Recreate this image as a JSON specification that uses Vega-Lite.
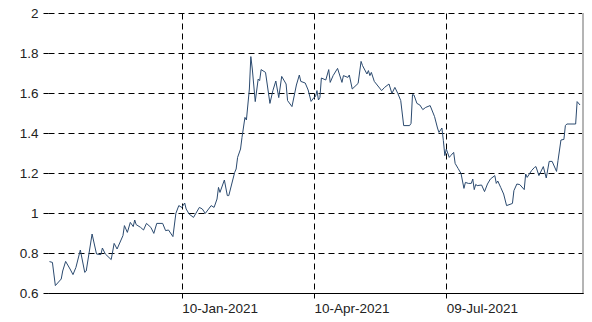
{
  "$schema": "https://vega.github.io/schema/vega-lite/v6.json",
  "width": 535,
  "height": 280,
  "autosize": {"type": "none"},
  "padding": {"left": 48, "top": 13, "right": 9, "bottom": 29},
  "background": "white",
  "config": {"view": {"stroke": null}, "font": "Liberation Sans"},
  "data": {"values": [
    {"date": "2020-10-12", "v": 0.757},
    {"date": "2020-10-14", "v": 0.753},
    {"date": "2020-10-16", "v": 0.637},
    {"date": "2020-10-20", "v": 0.67},
    {"date": "2020-10-21", "v": 0.71},
    {"date": "2020-10-23", "v": 0.758},
    {"date": "2020-10-26", "v": 0.72},
    {"date": "2020-10-28", "v": 0.692},
    {"date": "2020-10-30", "v": 0.728},
    {"date": "2020-11-02", "v": 0.815},
    {"date": "2020-11-05", "v": 0.703},
    {"date": "2020-11-06", "v": 0.71},
    {"date": "2020-11-10", "v": 0.895},
    {"date": "2020-11-13", "v": 0.795},
    {"date": "2020-11-16", "v": 0.792},
    {"date": "2020-11-17", "v": 0.825},
    {"date": "2020-11-19", "v": 0.795},
    {"date": "2020-11-23", "v": 0.767},
    {"date": "2020-11-25", "v": 0.848},
    {"date": "2020-11-27", "v": 0.82},
    {"date": "2020-12-01", "v": 0.887},
    {"date": "2020-12-02", "v": 0.937},
    {"date": "2020-12-04", "v": 0.903},
    {"date": "2020-12-06", "v": 0.953},
    {"date": "2020-12-08", "v": 0.932},
    {"date": "2020-12-09", "v": 0.965},
    {"date": "2020-12-10", "v": 0.942},
    {"date": "2020-12-13", "v": 0.928},
    {"date": "2020-12-15", "v": 0.915},
    {"date": "2020-12-17", "v": 0.948},
    {"date": "2020-12-20", "v": 0.928},
    {"date": "2020-12-22", "v": 0.898},
    {"date": "2020-12-24", "v": 0.948},
    {"date": "2020-12-28", "v": 0.948},
    {"date": "2020-12-30", "v": 0.912},
    {"date": "2021-01-01", "v": 0.915},
    {"date": "2021-01-04", "v": 0.882},
    {"date": "2021-01-06", "v": 0.998},
    {"date": "2021-01-08", "v": 1.037},
    {"date": "2021-01-10", "v": 1.028},
    {"date": "2021-01-12", "v": 1.05},
    {"date": "2021-01-13", "v": 1.02},
    {"date": "2021-01-15", "v": 0.995},
    {"date": "2021-01-18", "v": 0.978},
    {"date": "2021-01-22", "v": 1.028},
    {"date": "2021-01-24", "v": 1.02},
    {"date": "2021-01-26", "v": 0.998},
    {"date": "2021-01-30", "v": 1.037},
    {"date": "2021-02-01", "v": 1.028},
    {"date": "2021-02-03", "v": 1.07},
    {"date": "2021-02-04", "v": 1.128},
    {"date": "2021-02-05", "v": 1.103},
    {"date": "2021-02-08", "v": 1.165},
    {"date": "2021-02-10", "v": 1.087},
    {"date": "2021-02-11", "v": 1.087},
    {"date": "2021-02-15", "v": 1.203},
    {"date": "2021-02-16", "v": 1.22},
    {"date": "2021-02-17", "v": 1.278},
    {"date": "2021-02-19", "v": 1.32},
    {"date": "2021-02-20", "v": 1.378},
    {"date": "2021-02-22", "v": 1.478},
    {"date": "2021-02-23", "v": 1.465},
    {"date": "2021-02-25", "v": 1.62},
    {"date": "2021-02-26", "v": 1.782},
    {"date": "2021-02-27", "v": 1.72},
    {"date": "2021-03-01", "v": 1.557},
    {"date": "2021-03-03", "v": 1.67},
    {"date": "2021-03-04", "v": 1.662},
    {"date": "2021-03-05", "v": 1.717},
    {"date": "2021-03-08", "v": 1.703},
    {"date": "2021-03-11", "v": 1.548},
    {"date": "2021-03-13", "v": 1.612},
    {"date": "2021-03-15", "v": 1.66},
    {"date": "2021-03-17", "v": 1.577},
    {"date": "2021-03-19", "v": 1.683},
    {"date": "2021-03-22", "v": 1.645},
    {"date": "2021-03-23", "v": 1.562},
    {"date": "2021-03-26", "v": 1.532},
    {"date": "2021-03-29", "v": 1.64},
    {"date": "2021-03-31", "v": 1.69},
    {"date": "2021-04-01", "v": 1.658},
    {"date": "2021-04-04", "v": 1.65},
    {"date": "2021-04-06", "v": 1.615},
    {"date": "2021-04-08", "v": 1.558},
    {"date": "2021-04-10", "v": 1.578},
    {"date": "2021-04-11", "v": 1.582},
    {"date": "2021-04-12", "v": 1.612},
    {"date": "2021-04-13", "v": 1.565},
    {"date": "2021-04-14", "v": 1.578},
    {"date": "2021-04-15", "v": 1.675},
    {"date": "2021-04-18", "v": 1.665},
    {"date": "2021-04-20", "v": 1.717},
    {"date": "2021-04-21", "v": 1.653},
    {"date": "2021-04-23", "v": 1.687},
    {"date": "2021-04-26", "v": 1.723},
    {"date": "2021-04-29", "v": 1.653},
    {"date": "2021-04-30", "v": 1.687},
    {"date": "2021-05-03", "v": 1.678},
    {"date": "2021-05-04", "v": 1.69},
    {"date": "2021-05-06", "v": 1.62},
    {"date": "2021-05-10", "v": 1.648},
    {"date": "2021-05-12", "v": 1.758},
    {"date": "2021-05-13", "v": 1.737},
    {"date": "2021-05-16", "v": 1.695},
    {"date": "2021-05-17", "v": 1.712},
    {"date": "2021-05-18", "v": 1.687},
    {"date": "2021-05-19", "v": 1.703},
    {"date": "2021-05-21", "v": 1.658},
    {"date": "2021-05-26", "v": 1.612},
    {"date": "2021-05-28", "v": 1.628},
    {"date": "2021-05-31", "v": 1.645},
    {"date": "2021-06-02", "v": 1.598},
    {"date": "2021-06-04", "v": 1.628},
    {"date": "2021-06-06", "v": 1.598},
    {"date": "2021-06-08", "v": 1.562},
    {"date": "2021-06-10", "v": 1.437},
    {"date": "2021-06-14", "v": 1.437},
    {"date": "2021-06-15", "v": 1.448},
    {"date": "2021-06-16", "v": 1.592},
    {"date": "2021-06-17", "v": 1.59},
    {"date": "2021-06-19", "v": 1.548},
    {"date": "2021-06-21", "v": 1.54},
    {"date": "2021-06-23", "v": 1.517},
    {"date": "2021-06-25", "v": 1.528},
    {"date": "2021-06-28", "v": 1.537},
    {"date": "2021-07-01", "v": 1.482},
    {"date": "2021-07-03", "v": 1.425},
    {"date": "2021-07-04", "v": 1.403},
    {"date": "2021-07-06", "v": 1.425},
    {"date": "2021-07-07", "v": 1.362},
    {"date": "2021-07-08", "v": 1.287},
    {"date": "2021-07-09", "v": 1.32},
    {"date": "2021-07-11", "v": 1.278},
    {"date": "2021-07-12", "v": 1.287},
    {"date": "2021-07-14", "v": 1.303},
    {"date": "2021-07-15", "v": 1.248},
    {"date": "2021-07-17", "v": 1.223},
    {"date": "2021-07-19", "v": 1.198},
    {"date": "2021-07-21", "v": 1.123},
    {"date": "2021-07-22", "v": 1.153},
    {"date": "2021-07-24", "v": 1.148},
    {"date": "2021-07-26", "v": 1.148},
    {"date": "2021-07-27", "v": 1.17},
    {"date": "2021-07-28", "v": 1.117},
    {"date": "2021-07-29", "v": 1.143},
    {"date": "2021-07-30", "v": 1.137},
    {"date": "2021-08-02", "v": 1.14},
    {"date": "2021-08-04", "v": 1.107},
    {"date": "2021-08-06", "v": 1.145},
    {"date": "2021-08-08", "v": 1.17},
    {"date": "2021-08-11", "v": 1.187},
    {"date": "2021-08-12", "v": 1.148},
    {"date": "2021-08-13", "v": 1.16},
    {"date": "2021-08-15", "v": 1.128},
    {"date": "2021-08-17", "v": 1.095},
    {"date": "2021-08-19", "v": 1.037},
    {"date": "2021-08-22", "v": 1.045},
    {"date": "2021-08-23", "v": 1.048},
    {"date": "2021-08-24", "v": 1.112},
    {"date": "2021-08-26", "v": 1.145},
    {"date": "2021-08-28", "v": 1.142},
    {"date": "2021-08-31", "v": 1.117},
    {"date": "2021-09-01", "v": 1.195},
    {"date": "2021-09-02", "v": 1.178},
    {"date": "2021-09-05", "v": 1.212},
    {"date": "2021-09-07", "v": 1.228},
    {"date": "2021-09-08", "v": 1.232},
    {"date": "2021-09-10", "v": 1.187},
    {"date": "2021-09-13", "v": 1.232},
    {"date": "2021-09-15", "v": 1.175},
    {"date": "2021-09-17", "v": 1.258},
    {"date": "2021-09-19", "v": 1.258},
    {"date": "2021-09-22", "v": 1.208},
    {"date": "2021-09-23", "v": 1.262},
    {"date": "2021-09-25", "v": 1.365},
    {"date": "2021-09-27", "v": 1.368},
    {"date": "2021-09-28", "v": 1.437},
    {"date": "2021-09-29", "v": 1.445},
    {"date": "2021-10-05", "v": 1.445},
    {"date": "2021-10-06", "v": 1.557},
    {"date": "2021-10-08", "v": 1.54}
  ]},
  "encoding": {
    "x": {
      "field": "date", "type": "temporal",
      "scale": {"type": "utc", "domain": [
        {"year": 2020, "month": 10, "date": 11, "utc": true},
        {"year": 2021, "month": 10, "date": 10, "utc": true}
      ]},
      "axis": {
        "title": null,
        "values": [
          {"year": 2021, "month": 1, "date": 10, "utc": true},
          {"year": 2021, "month": 4, "date": 10, "utc": true},
          {"year": 2021, "month": 7, "date": 9, "utc": true}
        ],
        "format": "%d-%b-%Y",
        "labelAlign": "left",
        "labelBaseline": "top",
        "labelPadding": 3,
        "labelFontSize": 13.5,
        "labelColor": "#222222",
        "labelFont": "Liberation Sans",
        "tickSize": 5,
        "tickColor": "#000000",
        "domainColor": "#000000",
        "domainWidth": 1,
        "grid": true,
        "gridColor": "#000000",
        "gridDash": [6, 4],
        "gridWidth": 1,
        "gridOpacity": 1
      }
    },
    "y": {
      "field": "v", "type": "quantitative",
      "scale": {"domain": [0.6, 2], "nice": false, "zero": false},
      "axis": {
        "title": null,
        "values": [0.6, 0.8, 1, 1.2, 1.4, 1.6, 1.8, 2],
        "format": "~g",
        "domain": false,
        "labelPadding": 5,
        "labelFontSize": 13.5,
        "labelColor": "#222222",
        "labelFont": "Liberation Sans",
        "tickSize": 5,
        "tickColor": "#000000",
        "grid": true,
        "gridColor": "#000000",
        "gridDash": [6, 4],
        "gridWidth": 1,
        "gridOpacity": 1
      }
    }
  },
  "layer": [
    {
      "mark": {"type": "line", "color": "#2b4a6f", "strokeWidth": 1, "clip": true}
    },
    {
      "mark": {"type": "rule", "color": "#b4b4b4", "strokeWidth": 1},
      "encoding": {
        "x": {"datum": {"year": 2021, "month": 10, "date": 10, "utc": true}, "type": "temporal"},
        "y": null
      }
    }
  ]
}
